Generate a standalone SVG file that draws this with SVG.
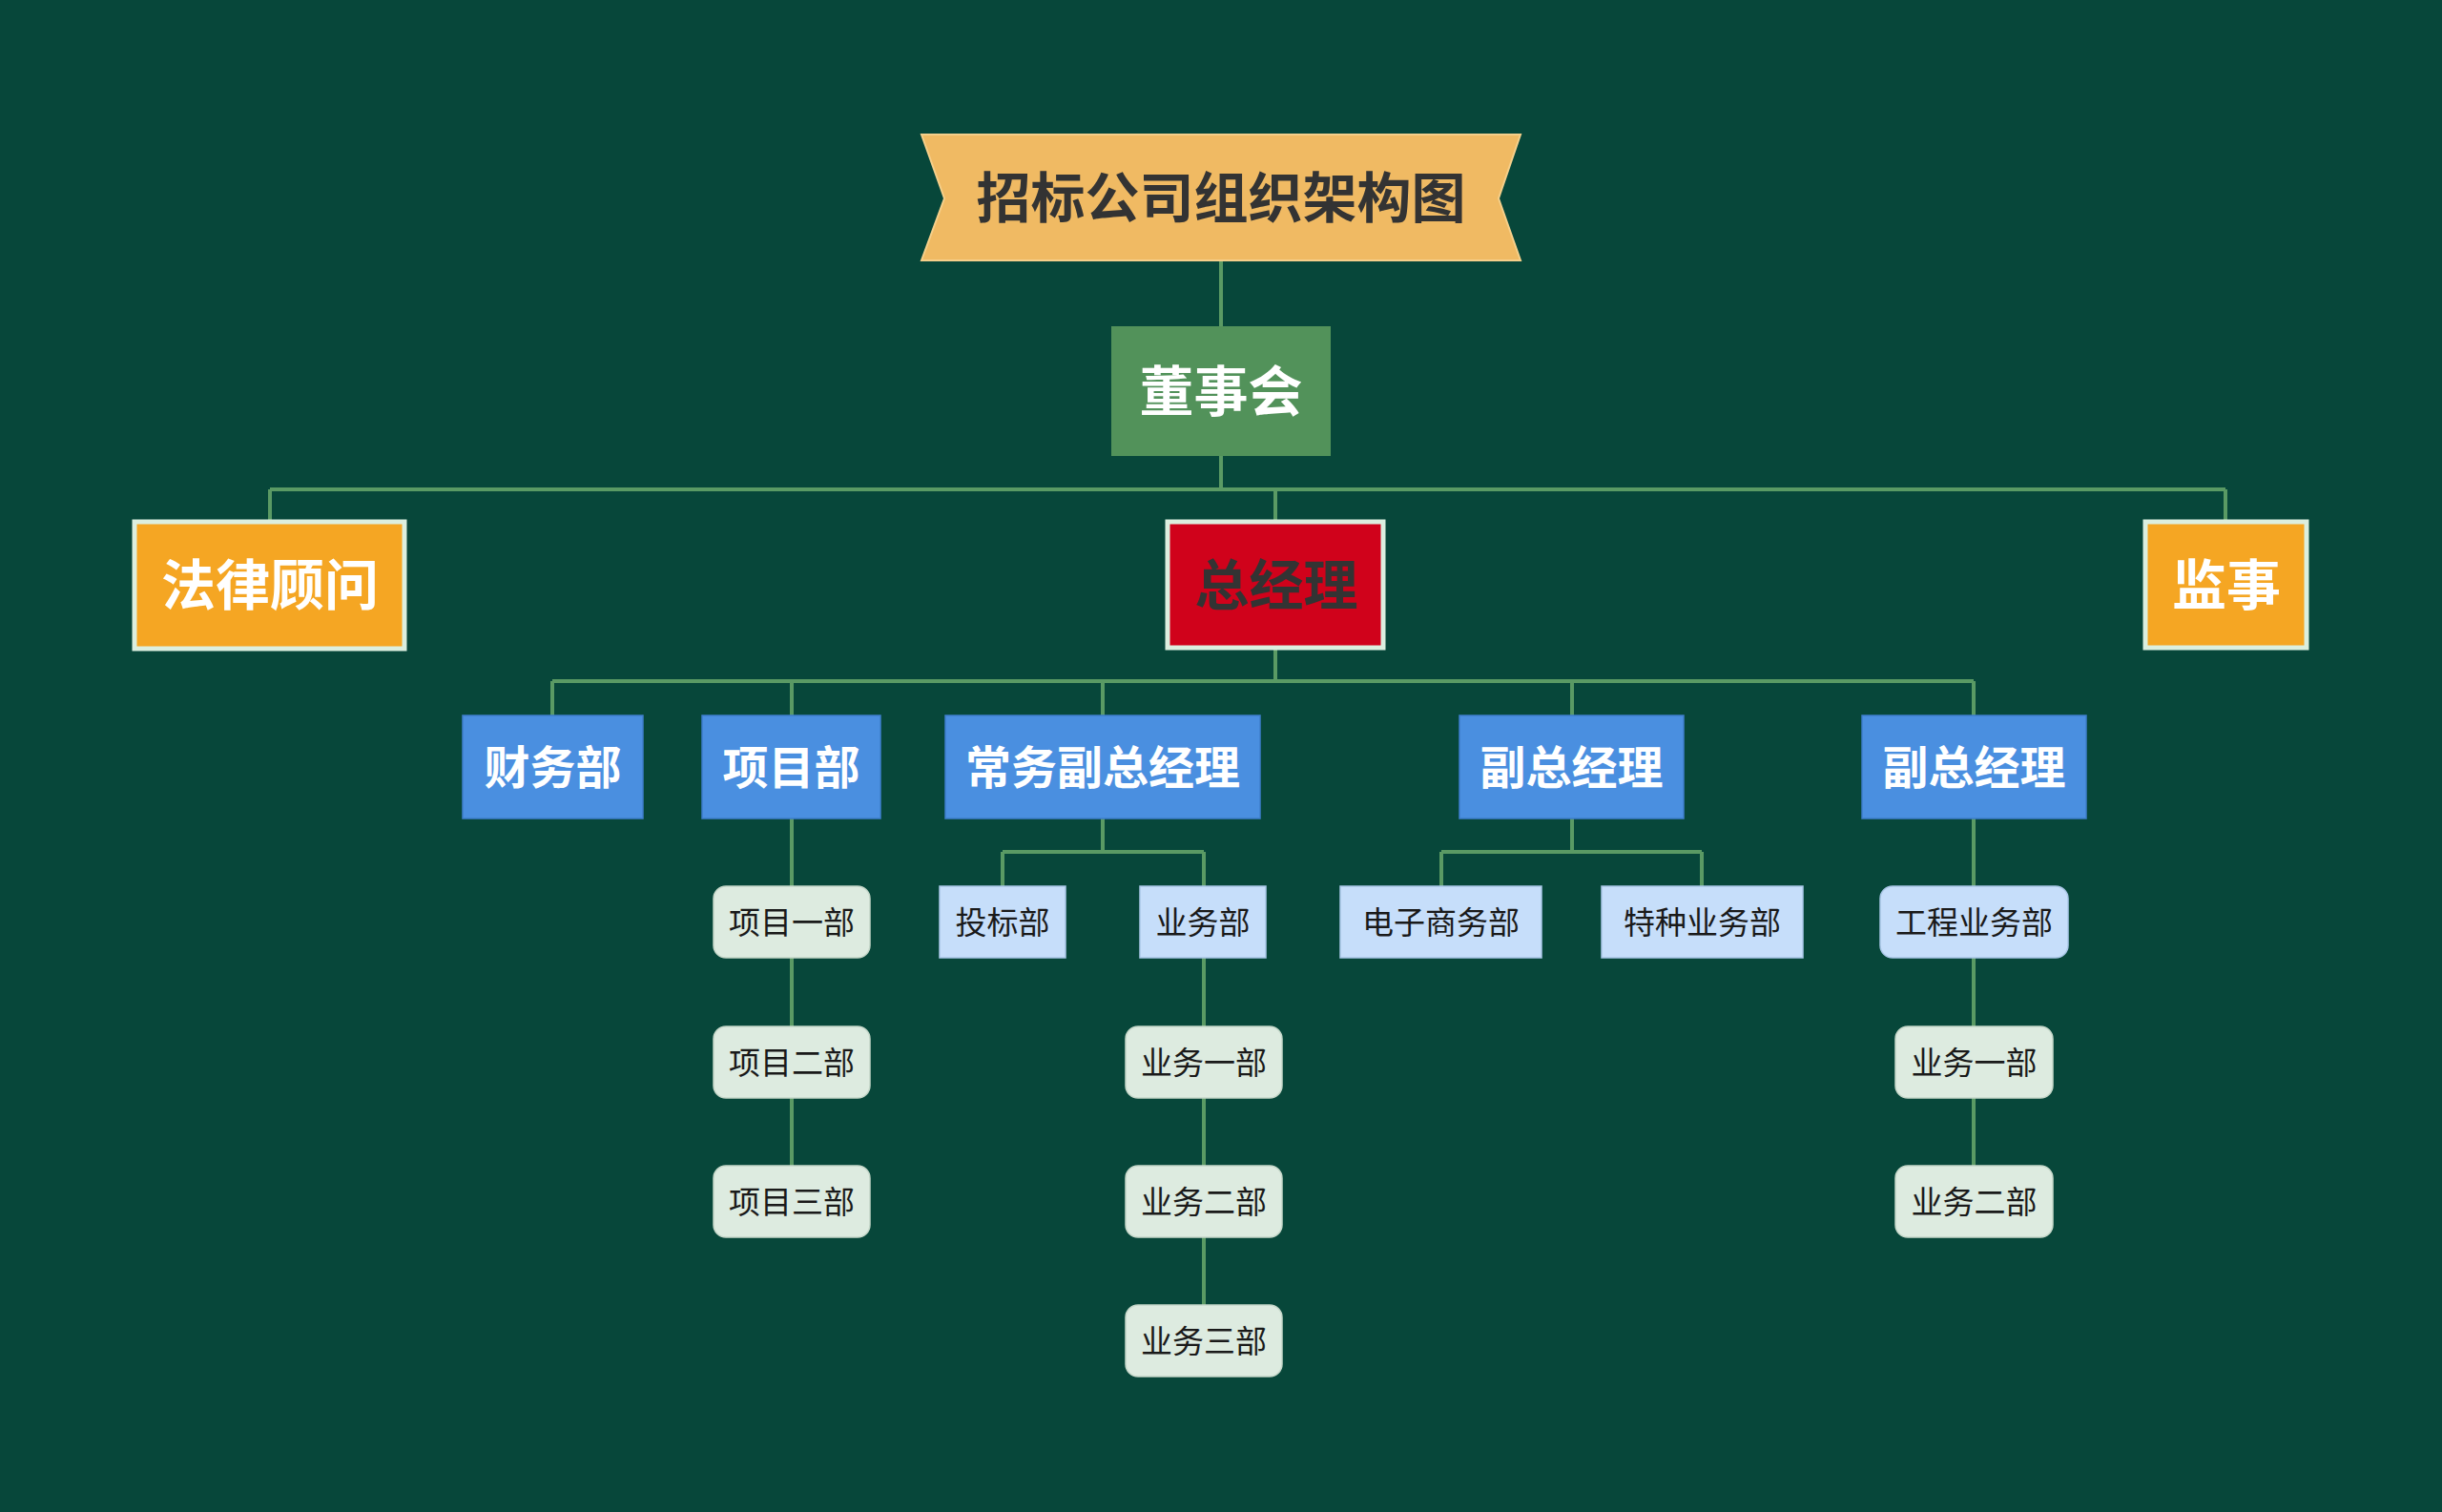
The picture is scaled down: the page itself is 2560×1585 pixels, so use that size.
<svg xmlns="http://www.w3.org/2000/svg" width="2560" height="1585" viewBox="0 0 2560 1585">
<style>
.bg{fill:#07473A}
.ln{fill:none;stroke:#5A9A64;stroke-width:4}
.t{font-family:"Noto Sans CJK SC","Noto Sans",sans-serif;text-anchor:middle;dominant-baseline:central}
.big{font-weight:700;font-size:57px}
.mid{font-weight:700;font-size:48px;fill:#fff}
.sm{font-weight:400;font-size:33px;fill:#1a1a1a}
.l2{stroke:#DCEFDF;stroke-width:5}
.blue{fill:#4A8FE0;stroke:#3E7ECB;stroke-width:1.5}
.lb{fill:#C6DEFA;stroke:#A9C6E6;stroke-width:1.5}
.lg{fill:#DDEBE0;stroke:#C4D6C8;stroke-width:1.5}
</style>
<rect class="bg" x="0" y="0" width="2560" height="1585"/>
<g id="connectors">
<path class="ln" d="M1280 273V342M1280 478V513M283 513H2333M283 513V545M1337 513V545M2333 513V545"/>
<path class="ln" d="M1337 681V714M579 714H2069M579 714V750M830 714V750M1156 714V750M1648 714V750M2069 714V750"/>
<path class="ln" d="M830 858V1223"/>
<path class="ln" d="M1156 858V893M1051 893H1262M1051 893V929M1262 893V1368"/>
<path class="ln" d="M1648 858V893M1511 893H1784M1511 893V929M1784 893V929"/>
<path class="ln" d="M2069 858V1222"/>
</g>
<g id="title">
<polygon points="966,141 1594,141 1571,208 1594,273 966,273 990,208" fill="#F0BA63" stroke="#F5CF8A" stroke-width="2"/>
<text class="t big" x="1280" y="203" fill="#333333">招标公司组织架构图</text>
</g>
<g id="board">
<rect x="1165" y="342" width="230" height="136" fill="#52925A"/>
<text class="t big" x="1280" y="406" fill="#ffffff">董事会</text>
</g>
<g id="legal">
<rect class="l2" x="141" y="547" width="283" height="133" fill="#F5A623"/>
<text class="t big" x="283" y="609" fill="#ffffff">法律顾问</text>
</g>
<g id="gm">
<rect class="l2" x="1224" y="547" width="226" height="132" fill="#D0021B"/>
<text class="t big" x="1338" y="609" fill="#333333">总经理</text>
</g>
<g id="supervisor">
<rect class="l2" x="2249" y="547" width="169" height="132" fill="#F5A623"/>
<text class="t big" x="2334" y="609" fill="#ffffff">监事</text>
</g>
<g id="finance">
<rect class="blue" x="485" y="750" width="189" height="108"/>
<text class="t mid" x="579.5" y="801">财务部</text>
</g>
<g id="project">
<rect class="blue" x="736" y="750" width="187" height="108"/>
<text class="t mid" x="829.5" y="801">项目部</text>
</g>
<g id="exec-vgm">
<rect class="blue" x="991" y="750" width="330" height="108"/>
<text class="t mid" x="1156" y="801">常务副总经理</text>
</g>
<g id="vgm1">
<rect class="blue" x="1530" y="750" width="235" height="108"/>
<text class="t mid" x="1647.5" y="801">副总经理</text>
</g>
<g id="vgm2">
<rect class="blue" x="1952" y="750" width="235" height="108"/>
<text class="t mid" x="2069.5" y="801">副总经理</text>
</g>
<g id="proj1">
<rect class="lg" x="748" y="929" width="164" height="75" rx="13"/>
<text class="t sm" x="830" y="965">项目一部</text>
</g>
<g id="proj2">
<rect class="lg" x="748" y="1076" width="164" height="75" rx="13"/>
<text class="t sm" x="830" y="1112">项目二部</text>
</g>
<g id="proj3">
<rect class="lg" x="748" y="1222" width="164" height="75" rx="13"/>
<text class="t sm" x="830" y="1258">项目三部</text>
</g>
<g id="bidding">
<rect class="lb" x="985" y="929" width="132" height="75"/>
<text class="t sm" x="1051" y="965">投标部</text>
</g>
<g id="business">
<rect class="lb" x="1195" y="929" width="132" height="75"/>
<text class="t sm" x="1261" y="965">业务部</text>
</g>
<g id="biz1">
<rect class="lg" x="1180" y="1076" width="164" height="75" rx="13"/>
<text class="t sm" x="1262" y="1112">业务一部</text>
</g>
<g id="biz2">
<rect class="lg" x="1180" y="1222" width="164" height="75" rx="13"/>
<text class="t sm" x="1262" y="1258">业务二部</text>
</g>
<g id="biz3">
<rect class="lg" x="1180" y="1368" width="164" height="75" rx="13"/>
<text class="t sm" x="1262" y="1404">业务三部</text>
</g>
<g id="ecommerce">
<rect class="lb" x="1405" y="929" width="211" height="75"/>
<text class="t sm" x="1510.5" y="965">电子商务部</text>
</g>
<g id="special">
<rect class="lb" x="1679" y="929" width="211" height="75"/>
<text class="t sm" x="1784.5" y="965">特种业务部</text>
</g>
<g id="engineering">
<rect class="lb" x="1971" y="929" width="197" height="75" rx="13"/>
<text class="t sm" x="2069.5" y="965">工程业务部</text>
</g>
<g id="rbiz1">
<rect class="lg" x="1987" y="1076" width="165" height="75" rx="13"/>
<text class="t sm" x="2069.5" y="1112">业务一部</text>
</g>
<g id="rbiz2">
<rect class="lg" x="1987" y="1222" width="165" height="75" rx="13"/>
<text class="t sm" x="2069.5" y="1258">业务二部</text>
</g>
</svg>
